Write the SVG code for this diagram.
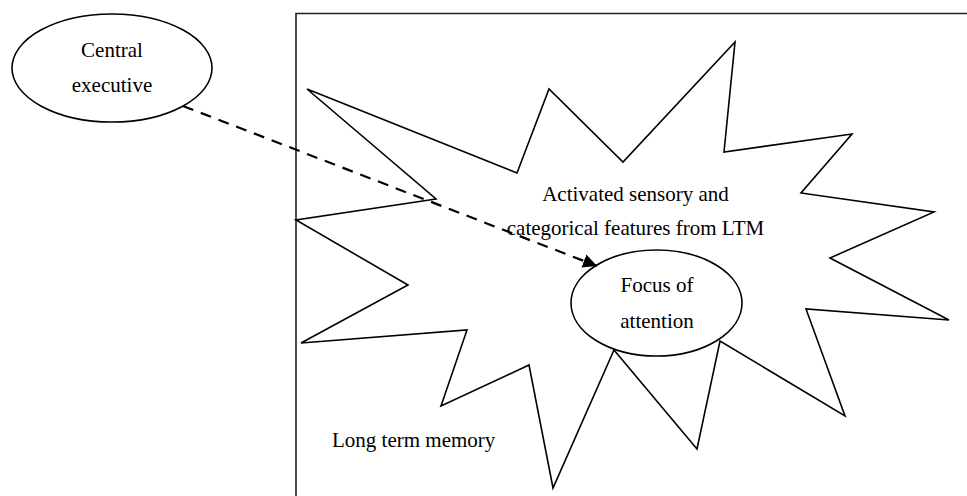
<svg xmlns="http://www.w3.org/2000/svg" width="967" height="496" viewBox="0 0 967 496">
<style>
  .shape { fill: #fff; stroke: #000; stroke-width: 1.6; stroke-linejoin: miter; }
  .frame { fill: none; stroke: #222; stroke-width: 1.6; }
  .lbl { font-family: "Liberation Serif", "Times New Roman", serif; font-size: 21px; fill: #000; }
  .mid { text-anchor: middle; }
  .dash { fill: none; stroke: #000; stroke-width: 2.2; stroke-dasharray: 11 8; }
</style>
<defs>
  <marker id="arrow" markerUnits="userSpaceOnUse" markerWidth="15" markerHeight="15" refX="14" refY="7" orient="auto" viewBox="0 0 15 15">
    <path d="M0,0 L14,7 L0,14 Z" fill="#000"/>
  </marker>
</defs>
<rect width="967" height="496" fill="#fff"/>
<g id="ltm">
  <path class="frame" d="M296,510 L296,13.5 L980,13.5"/>
  <text class="lbl" x="332" y="447">Long term memory</text>
</g>
<g id="activated">
  <polygon class="shape" points="307,89 517,173 549,89 623,162 735,42 724,152 852,134 801,193 934,212 830,258 949,320 806,309 845,416 720,341 697,449 614,350 553,488 529,365 441,406 467,330 301,343 408,285 296,220 436,199"/>
  <text class="lbl mid" x="635.5" y="201">Activated sensory and</text>
  <text class="lbl mid" x="635.5" y="235">categorical features from LTM</text>
</g>
<g id="central-executive">
  <ellipse class="shape" cx="112" cy="68" rx="100" ry="54"/>
  <text class="lbl mid" x="112" y="57">Central</text>
  <text class="lbl mid" x="112" y="92">executive</text>
</g>
<g id="focus">
  <ellipse class="shape" cx="656.5" cy="303" rx="85.5" ry="53"/>
  <text class="lbl mid" x="657" y="292">Focus of</text>
  <text class="lbl mid" x="657" y="328">attention</text>
</g>
<g id="connectors">
  <line class="dash" x1="183" y1="106" x2="597" y2="266" marker-end="url(#arrow)"/>
</g>
</svg>
